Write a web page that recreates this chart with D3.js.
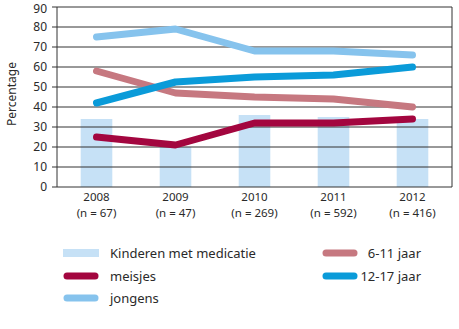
<!DOCTYPE html>
<html><head><meta charset="utf-8">
<script src="https://cdn.jsdelivr.net/npm/d3@7"></script>
<style>
body{margin:0;background:#fff;}
text{font-family:"Noto Sans","Open Sans",sans-serif;fill:#2a2a2a;}
</style></head><body>
<svg id="c" width="459" height="329"></svg>
<script>
const years = ["2008","2009","2010","2011","2012"];
const nLabels = ["(n = 67)","(n = 47)","(n = 269)","(n = 592)","(n = 416)"];
const medicatie = [34,20,36,35,34];
const meisjes = [25,21,32,32,34];
const jongens = [75,79,68,68,66];
const age611 = [58,47,45,44,40];
const age1217 = [42,52.5,55,56,60];
const yTicks = [0,10,20,30,40,50,60,70,80,90];

const svg = d3.select("#c");
const L=57,R=452,T=7,B=187;
const x = d3.scaleBand().domain(years).range([L,R]).paddingInner(0.6).paddingOuter(0.3);
const y = d3.scaleLinear().domain([0,90]).range([B,T]);

// bars
svg.selectAll("rect.bar").data(medicatie).enter().append("rect")
  .attr("x",(d,i)=>x(years[i])).attr("width",x.bandwidth())
  .attr("y",d=>y(d)).attr("height",d=>B-y(d)).attr("fill","#c6e1f6");

// grid
svg.selectAll("line.g").data(yTicks).enter().append("line")
  .attr("x1",L-5).attr("x2",R).attr("y1",d=>y(d)).attr("y2",d=>y(d))
  .attr("stroke","#333").attr("stroke-width",1);
svg.append("line").attr("x1",L).attr("x2",L).attr("y1",T).attr("y2",B).attr("stroke","#333");
svg.append("line").attr("x1",R).attr("x2",R).attr("y1",T).attr("y2",B).attr("stroke","#333");

svg.selectAll("text.yt").data(yTicks).enter().append("text")
  .attr("x",47).attr("y",d=>Math.max(y(d)+4.3,13.2)).attr("text-anchor","end")
  .attr("font-size",12).text(d=>d);

svg.append("text").attr("transform","translate(12,94) rotate(-90)")
  .attr("text-anchor","middle").attr("dy","0.35em").attr("font-size",12).text("Percentage");

const cx = i=>x(years[i])+x.bandwidth()/2;
years.forEach((yr,i)=>{
  const t = svg.append("text").attr("text-anchor","middle").attr("font-size",11.5);
  t.append("tspan").attr("x",cx(i)).attr("y",201).text(yr);
  t.append("tspan").attr("x",cx(i)).attr("y",217).text(nLabels[i]);
});

const line = d3.line().x((d,i)=>cx(i)).y(d=>y(d));
const series = [
  {v:jongens,c:"#86c3ed"},
  {v:age611,c:"#c67880"},
  {v:age1217,c:"#0a9bd9"},
  {v:meisjes,c:"#a3063f"}
];
series.forEach(s=>{
  svg.append("path").datum(s.v).attr("d",line).attr("fill","none")
    .attr("stroke",s.c).attr("stroke-width",7).attr("stroke-linecap","round").attr("stroke-linejoin","round");
});

// legend
const lg = svg.append("g");
lg.append("rect").attr("x",63).attr("y",249).attr("width",36).attr("height",8).attr("fill","#c6e1f6");
lg.append("text").attr("x",110).attr("y",253).attr("dy","0.35em").attr("font-size",13).text("Kinderen met medicatie");
const legLines = [
  {x:67,y:276,c:"#a3063f",t:"meisjes",tx:110,anchor:"start"},
  {x:67,y:298,c:"#86c3ed",t:"jongens",tx:110,anchor:"start"},
  {x:326,y:253,c:"#c67880",t:"6-11 jaar",tx:421,anchor:"end"},
  {x:326,y:276,c:"#0a9bd9",t:"12-17 jaar",tx:421,anchor:"end"}
];
legLines.forEach(d=>{
  lg.append("line").attr("x1",d.x).attr("x2",d.x+28).attr("y1",d.y).attr("y2",d.y)
    .attr("stroke",d.c).attr("stroke-width",7).attr("stroke-linecap","round");
  lg.append("text").attr("x",d.tx).attr("y",d.y).attr("dy","0.35em").attr("text-anchor",d.anchor).attr("font-size",13).text(d.t);
});
</script></body></html>
